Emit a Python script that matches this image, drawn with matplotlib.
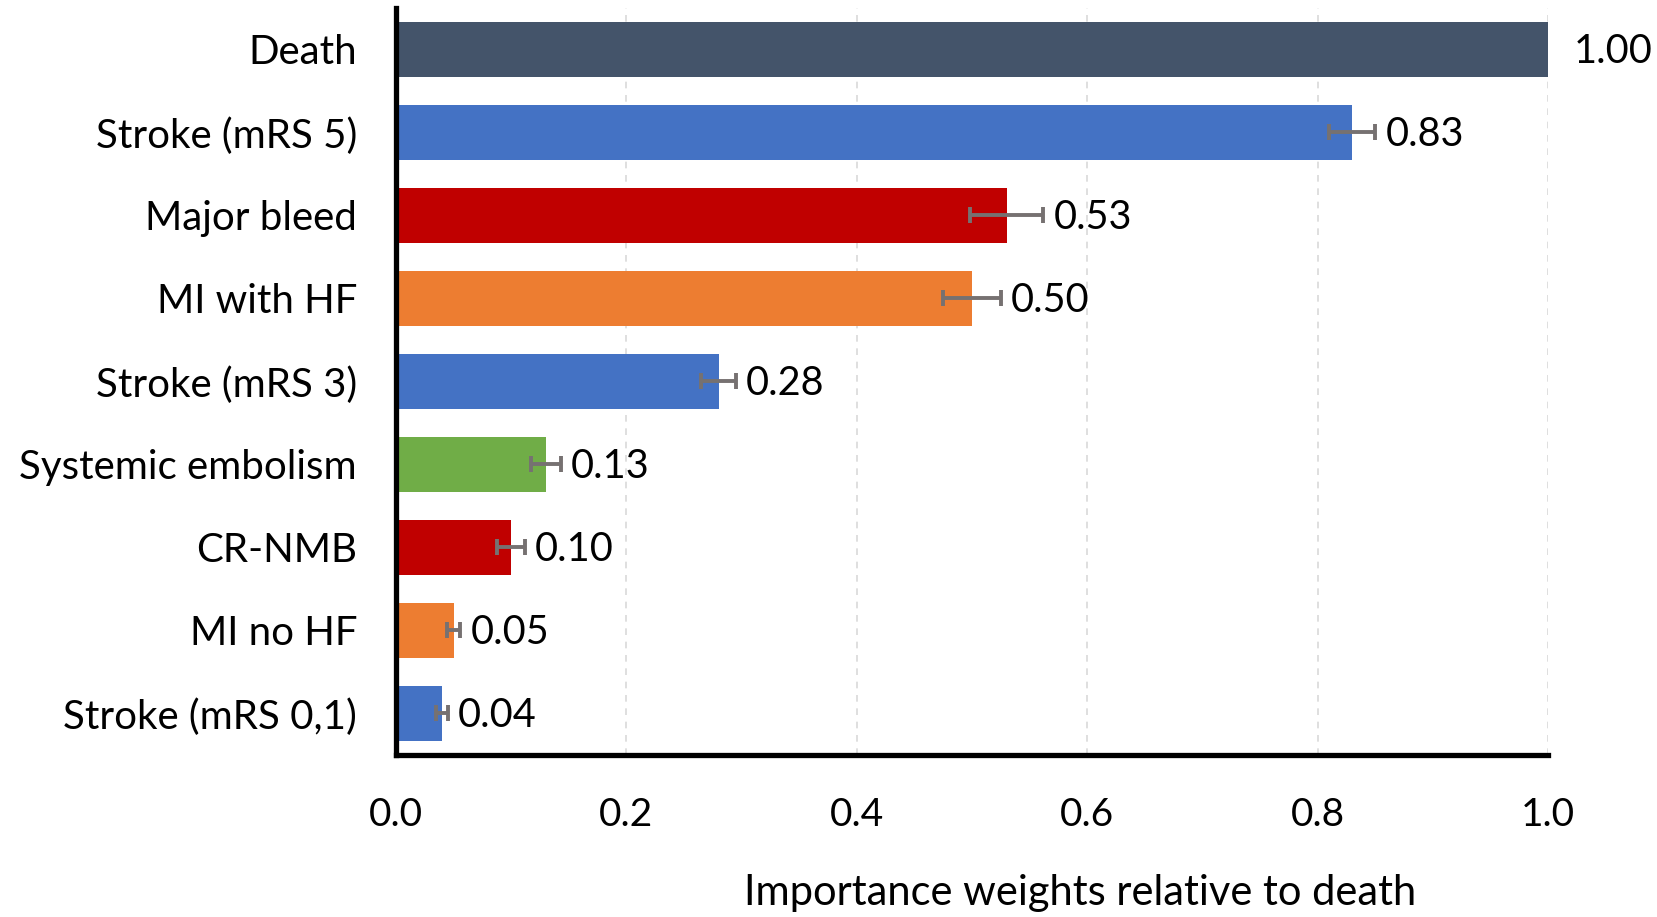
import numpy as np
import matplotlib.pyplot as plt

plt.rcParams['font.family'] = ['Lato', 'DejaVu Sans']

outcomes = ['Death', 'Stroke (mRS 5)', 'Major bleed', 'MI with HF', 'Stroke (mRS 3)',
            'Systemic embolism', 'CR-NMB', 'MI no HF', 'Stroke (mRS 0,1)']
weights = [1.00, 0.83, 0.53, 0.50, 0.28, 0.13, 0.10, 0.05, 0.04]
errors = [0.0, 0.020, 0.032, 0.025, 0.015, 0.013, 0.012, 0.006, 0.005]
colors = ['#44546A', '#4472C4', '#C00000', '#ED7D31', '#4472C4',
          '#70AD47', '#C00000', '#ED7D31', '#4472C4']
xticks = [0.0, 0.2, 0.4, 0.6, 0.8, 1.0]

fig = plt.figure(figsize=(16.58, 9.17), dpi=100)
ax = fig.add_axes([0.2388, 0.1767, 0.6949, 0.8146])

y = np.arange(len(outcomes))[::-1]
ax.set_axisbelow(True)
ax.grid(axis='x', linestyle=(0, (4, 4)), color='#D9D9D9', linewidth=1.2)
ax.barh(y, weights, height=0.66, color=colors, zorder=2)

for yi, w, e in zip(y, weights, errors):
    if e > 0:
        ax.errorbar(w, yi, xerr=e, fmt='none', ecolor='#767171', elinewidth=2.8,
                    capsize=6, capthick=2.8, zorder=3)
    off = 10 if e > 0 else 26
    ax.annotate(f'{w:.2f}', (w + e, yi), xytext=(off, -2), textcoords='offset pixels',
                va='center', ha='left', fontsize=28.5, clip_on=False)

ax.set_xlim(0, 1.0)
ax.set_ylim(-0.5, len(outcomes) - 0.5)
ax.set_yticks(y)
ax.set_yticklabels(outcomes, fontsize=29)
ax.set_xticks(xticks)
ax.set_xticklabels([f'{t:.1f}' for t in xticks], fontsize=28)
ax.tick_params(length=0)
ax.tick_params(axis='x', pad=30)
ax.tick_params(axis='y', pad=28)

for s in ['top', 'right']:
    ax.spines[s].set_visible(False)
for s in ['left', 'bottom']:
    ax.spines[s].set_linewidth(3.8)
    ax.spines[s].set_color('black')

fig.text(1080 / 1658, 1 - 893 / 917, 'Importance weights relative to death',
         ha='center', va='center', fontsize=30)

fig.savefig('out.png', dpi=100)
